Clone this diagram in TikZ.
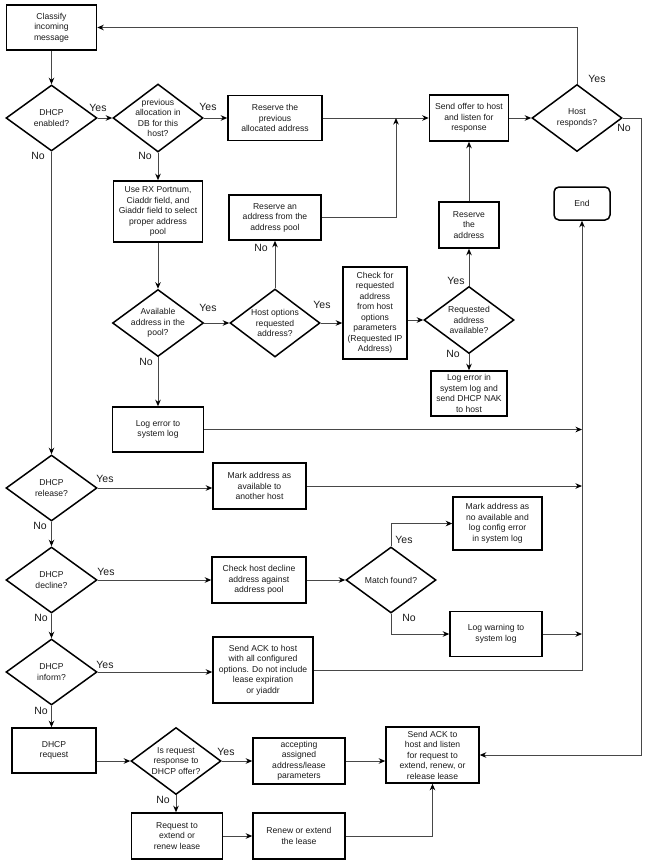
\documentclass[tikz,border=0pt]{standalone}
\usepackage{fontspec}
\setmainfont{Liberation Sans}
\usetikzlibrary{shapes.geometric,arrows.meta}
\newcommand{\boxfont}{\fontsize{8.6}{10.5}\selectfont}
\newcommand{\ynfont}{\fontsize{10.5}{12}\selectfont}
\definecolor{lc}{HTML}{484848}
\definecolor{tc}{HTML}{1a1a1a}
\tikzset{
  box/.style={draw=black, line width=1.5pt, align=center, inner sep=1pt, font=\boxfont, text=tc},
  dec/.style={draw=black, line width=1.5pt, diamond, minimum width=90pt, minimum height=67pt, inner sep=0pt},
  dtext/.style={font=\boxfont, align=center, text=tc, inner sep=0pt},
  yn/.style={font=\ynfont, text=tc, inner sep=0pt},
  con/.style={draw=lc, line width=1pt, -{Stealth[length=6.5pt,width=5.5pt,inset=2pt,color=black]}},
  lin/.style={draw=lc, line width=1pt}
}
\begin{document}
\begin{tikzpicture}[x=1pt,y=-1pt]
\useasboundingbox (0,0) rectangle (646,865);
% boxes
\node[box, minimum width=90pt, minimum height=45pt] (cls) at (51.5,27.5) {Classify\\incoming\\message};
\node[box, minimum width=94pt, minimum height=45pt] (rprev) at (275,118) {Reserve the\\previous\\allocated address};
\node[box, minimum width=89pt, minimum height=61pt] (usex) at (158,211.5) {Use RX Portnum,\\Ciaddr field, and\\Giaddr field to select\\proper address\\pool};
\node[box, minimum width=92pt, minimum height=45pt] (raddr) at (275,217.5) {Reserve an\\address from the\\address pool};
\node[box, minimum width=79pt, minimum height=46pt] (offer) at (469,118) {Send offer to host\\and listen for\\response};
\node[box, minimum width=60pt, minimum height=46pt] (rsv) at (469,225) {Reserve\\the\\address};
\node[box, rounded corners=5pt, minimum width=56pt, minimum height=33pt] (endb) at (582,203.5) {End};
\node[box, minimum width=64pt, minimum height=92pt] (check) at (375,313) {Check for\\requested\\address\\from host\\options\\parameters\\(Requested IP\\Address)};
\node[box, minimum width=76pt, minimum height=45pt] (nak) at (469,393.5) {Log error in\\system log and\\send DHCP NAK\\to host};
\node[box, minimum width=91pt, minimum height=45pt] (logerr) at (158,429.5) {Log error to\\system log};
\node[box, minimum width=93pt, minimum height=46pt] (markav) at (259.5,486) {Mark address as\\available to\\another host};
\node[box, minimum width=94pt, minimum height=46pt] (chk) at (259,580) {Check host decline\\address against\\address pool};
\node[box, minimum width=89pt, minimum height=53pt] (markna) at (497.5,523.5) {Mark address as\\no available and\\log config error\\in system log};
\node[box, minimum width=92pt, minimum height=45pt] (logw) at (496,634) {Log warning to\\system log};
\node[box, minimum width=100pt, minimum height=66pt] (sinfo) at (263,670) {Send ACK to host\\with all configured\\options. Do not include\\lease expiration\\or yiaddr};
\node[box, minimum width=84pt, minimum height=45pt] (dreq) at (54,750.5) {DHCP\\request};
\node[box, minimum width=92pt, minimum height=46pt] (accept) at (299,761) {accepting\\assigned\\address/lease\\parameters};
\node[box, minimum width=91pt, minimum height=46pt] (reqext) at (177,836) {Request to\\extend or\\renew lease};
\node[box, minimum width=92pt, minimum height=46pt] (renew) at (299,836) {Renew or extend\\the lease};
\node[box, minimum width=93pt, minimum height=56pt] (fin) at (432.5,755) {Send ACK to\\host and listen\\for request to\\extend, renew, or\\release lease};
% diamonds
\node[dec, minimum width=91pt, minimum height=66pt] (d1) at (51.5,118) {};
\node[dtext] (d1t) at (d1) {DHCP\\enabled?};
\node[dec, minimum height=68pt] (d2) at (158,118) {};
\node[dtext] (d2t) at (d2) {previous\\allocation in\\DB for this\\host?};
\node[dec] (host) at (577,118) {};
\node[dtext] (hostt) at (host) {Host\\responds?};
\node[dec, minimum width=91pt] (avail) at (158,323) {};
\node[dtext] (availt) at (avail) {Available\\address in the\\pool?};
\node[dec, minimum height=68pt] (hopt) at (275,323) {};
\node[dtext] (hoptt) at (hopt) {Host options\\requested\\address?};
\node[dec] (reqav) at (469,320) {};
\node[dtext] (reqavt) at (reqav) {Requested\\address\\available?};
\node[dec, minimum width=91pt, minimum height=66pt] (drel) at (51.5,488) {};
\node[dtext] (drelt) at (drel) {DHCP\\release?};
\node[dec, minimum width=91pt, minimum height=66pt] (ddec) at (51.5,580) {};
\node[dtext] (ddect) at (ddec) {DHCP\\decline?};
\node[dec, minimum height=66pt] (match) at (391,580) {};
\node[dtext] (matcht) at (match) {Match found?};
\node[dec, minimum width=91pt, minimum height=66pt] (dinf) at (51.5,672) {};
\node[dtext] (dinft) at (dinf) {DHCP\\inform?};
\node[dec] (isreq) at (176,761) {};
\node[dtext] (isreqt) at (isreq) {Is request\\response to\\DHCP offer?};
% helper coordinates
\coordinate (jn) at (396,118);
% connectors
\draw[con] (cls.south -| d1.north) -- (d1.north);
\draw[con] (d1.east) -- (d2.west);
\draw[con] (d2.east) -- (rprev.west);
\draw[con] (d2.south) -- (usex.north);
\draw[con] (rprev.east) -- (offer.west);
\draw[con] (raddr.east) -| (jn);
\draw[con] (offer.east) -- (host.west);
\draw[con] (host.north) |- (cls.east);
\draw[con] (host.east) -- ++(19,0) |- (fin.east);
\draw[con] (usex.south) -- (avail.north);
\draw[con] (avail.east) -- (hopt.west);
\draw[con] (avail.south) -- (logerr.north);
\draw[con] (hopt.north) -- (raddr.south);
\draw[con] (hopt.east) -- (hopt.east -| check.west);
\draw[con] (reqav.west -| check.east) -- (reqav.west);
\draw[con] (reqav.north) -- (rsv.south);
\draw[con] (rsv.north) -- (offer.south);
\draw[con] (reqav.south) -- (nak.north);
\draw[con] (logerr.east) -- (logerr.east -| endb.south);
\draw[con] (sinfo.east) -| (endb.south);
\draw[con] (d1.south) -- (drel.north);
\draw[con] (drel.east) -- (drel.east -| markav.west);
\draw[con] (markav.east) -- (markav.east -| endb.south);
\draw[con] (drel.south) -- (ddec.north);
\draw[con] (ddec.east) -- (chk.west);
\draw[con] (chk.east) -- (match.west);
\draw[con] (match.north) |- (markna.west);
\draw[con] (match.south) |- (logw.west);
\draw[con] (logw.east) -- (logw.east -| endb.south);
\draw[con] (ddec.south) -- (dinf.north);
\draw[con] (dinf.east) -- (dinf.east -| sinfo.west);
\draw[con] (dinf.south) -- (dreq.north -| dinf.south);
\draw[con] (isreq.west -| dreq.east) -- (isreq.west);
\draw[con] (isreq.east) -- (accept.west);
\draw[con] (isreq.south) -- (reqext.north -| isreq.south);
\draw[con] (accept.east) -- (accept.east -| fin.west);
\draw[con] (reqext.east) -- (renew.west);
\draw[con] (renew.east) -| (fin.south);
% labels
\node[yn] (y1) at (98,108) {Yes};
\node[yn] (n1) at (38,156) {No};
\node[yn] (y2) at (208,107) {Yes};
\node[yn] (n2) at (145,156) {No};
\node[yn] (y3) at (597,79) {Yes};
\node[yn] (n3) at (624,128) {No};
\node[yn] (y4) at (208,308) {Yes};
\node[yn] (n4) at (146,362) {No};
\node[yn] (n5) at (261,248) {No};
\node[yn] (y5) at (322,305) {Yes};
\node[yn] (y6) at (456,281) {Yes};
\node[yn] (n6) at (453,354) {No};
\node[yn] (y7) at (105,479) {Yes};
\node[yn] (n7) at (40,526) {No};
\node[yn] (y8) at (106,572) {Yes};
\node[yn] (n8) at (41,618) {No};
\node[yn] (y9) at (404,540) {Yes};
\node[yn] (n9) at (409,618) {No};
\node[yn] (y10) at (105,665) {Yes};
\node[yn] (n10) at (41,711) {No};
\node[yn] (y11) at (226,752) {Yes};
\node[yn] (n11) at (163,800) {No};
\end{tikzpicture}
\end{document}
